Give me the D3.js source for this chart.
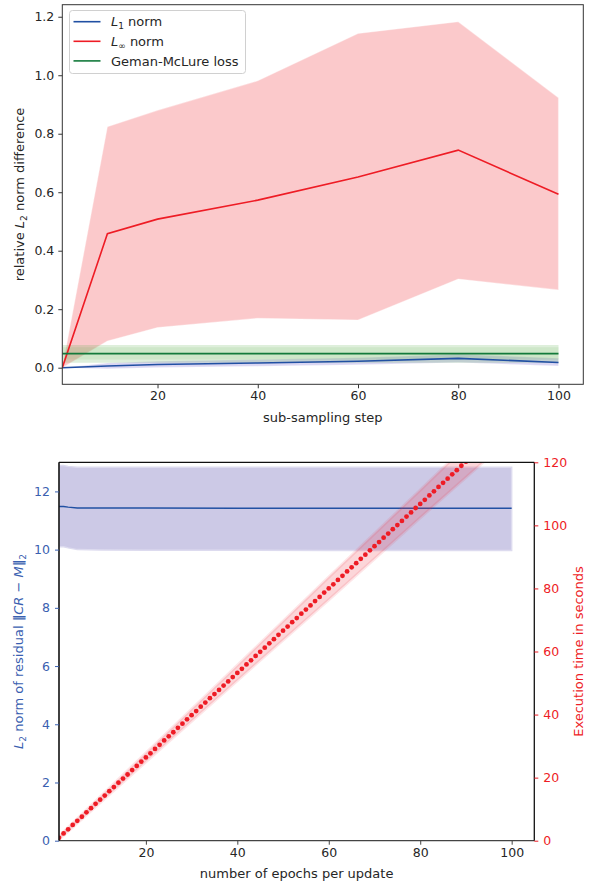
<!DOCTYPE html>
<html>
<head>
<meta charset="utf-8">
<script src="https://cdn.jsdelivr.net/npm/d3@7"></script>
<style>
  body { margin: 0; background: #fff; }
  svg { font-family: "DejaVu Sans", sans-serif; display: block; }
</style>
</head>
<body>
<svg id="chart" width="590" height="884"></svg>
<script>
// ---- top panel data (sub-sampling step) ----
var steps = [1, 10, 20, 40, 60, 80, 100];

var l1Mean = [0, 0.006, 0.011, 0.016, 0.022, 0.032, 0.018];
var l1Lo   = [0, -0.004, 0.001, 0.005, 0.01, 0.018, 0.006];
var l1Hi   = [0, 0.016, 0.022, 0.028, 0.034, 0.046, 0.032];

var linfMean = [0, 0.458, 0.508, 0.573, 0.652, 0.744, 0.593];
var linfLo   = [0, 0.091, 0.137, 0.169, 0.163, 0.303, 0.266];
var linfHi   = [0, 0.824, 0.880, 0.981, 1.143, 1.183, 0.923];

var gmMean = [0.048, 0.048, 0.048, 0.048, 0.048, 0.048, 0.048];
var gmLo   = [0.017, 0.017, 0.017, 0.017, 0.017, 0.017, 0.017];
var gmHi   = [0.078, 0.078, 0.078, 0.078, 0.078, 0.078, 0.078];
var gmInLo = [0.028, 0.028, 0.028, 0.028, 0.028, 0.028, 0.028];
var gmInHi = [0.070, 0.070, 0.070, 0.070, 0.070, 0.070, 0.070];

var topYTicks = [0, 0.2, 0.4, 0.6, 0.8, 1.0, 1.2];
var xTicks = [20, 40, 60, 80, 100];

// ---- bottom panel data (epochs per update) ----
var resEpochs = [1, 2, 3, 5, 10, 20, 40, 60, 80, 100];
var resMean = [11.48, 11.48, 11.46, 11.43, 11.43, 11.43, 11.42, 11.42, 11.42, 11.42];
var resLo   = [10.10, 10.10, 10.06, 10.0, 9.99, 9.98, 9.98, 9.97, 9.97, 9.97];
var resHi   = [12.89, 12.89, 12.86, 12.83, 12.83, 12.83, 12.83, 12.83, 12.83, 12.83];

var timeEpochs = d3.range(1, 101);
var timeMean = [
  0.9, 2.3, 3.6, 5.0, 6.3, 7.6, 9.0, 10.3, 11.7, 13.0,
  14.3, 15.7, 17.0, 18.4, 19.7, 21.0, 22.4, 23.7, 25.1, 26.4,
  27.7, 29.1, 30.4, 31.8, 33.1, 34.4, 35.8, 37.1, 38.5, 39.8,
  41.1, 42.5, 43.8, 45.2, 46.5, 47.8, 49.2, 50.5, 51.9, 53.2,
  54.5, 55.9, 57.2, 58.6, 59.9, 61.2, 62.6, 63.9, 65.3, 66.6,
  67.9, 69.3, 70.6, 72.0, 73.3, 74.6, 76.0, 77.3, 78.7, 80.0,
  81.3, 82.7, 84.0, 85.4, 86.7, 88.0, 89.4, 90.7, 92.1, 93.4,
  94.7, 96.1, 97.4, 98.8, 100.1, 101.4, 102.8, 104.1, 105.5, 106.8,
  108.1, 109.5, 110.8, 112.2, 113.5, 114.8, 116.2, 117.5, 118.9, 120.2,
  121.5, 122.9, 124.2, 125.6, 126.9, 128.2, 129.6, 130.9, 132.3, 133.6
];
var timeBandX  = [1, 20, 40, 60, 80, 100];
var timeBandLo = [0.4, 25.0, 50.8, 76.4, 102.4, 128.0];
var timeBandHi = [1.4, 27.8, 55.6, 83.6, 111.2, 139.2];

var leftTicks = [0, 2, 4, 6, 8, 10, 12];
var rightTicks = [0, 20, 40, 60, 80, 100, 120];

var BLUE = "#2150a3", RED = "#ee1c25", GREEN = "#137a3b", TXT = "#262626";
var TICK_FS = "12.5px", LAB_FS = "13px", SUB_FS = "9px";

var svg = d3.select("#chart");

function zip(xs, a, b) {
  return xs.map(function(x, i) { return {x: x, lo: a[i], hi: b ? b[i] : null}; });
}

// ======================= top panel =======================
var T = {l: 62.3, t: 4.7, r: 583.3, b: 384.3};
var tx = d3.scaleLinear().domain([1, 104.95]).range([T.l, T.r]);
var ty = d3.scaleLinear().domain([-0.0568, 1.2412]).range([T.b, T.t]);

svg.append("clipPath").attr("id", "clipTop").append("rect")
  .attr("x", T.l).attr("y", T.t).attr("width", T.r - T.l).attr("height", T.b - T.t);

var topG = svg.append("g").attr("clip-path", "url(#clipTop)");

var tArea = d3.area().x(function(d) { return tx(d.x); })
  .y0(function(d) { return ty(d.lo); }).y1(function(d) { return ty(d.hi); });
var tLine = d3.line().x(function(d) { return tx(d.x); }).y(function(d) { return ty(d.lo); });

topG.append("path").attr("d", tArea(zip(steps, l1Lo, l1Hi)))
  .attr("fill", "#6a5acd").attr("fill-opacity", 0.25)
  .attr("stroke", "#fff").attr("stroke-opacity", 0.3);
topG.append("path").attr("d", tArea(zip(steps, linfLo, linfHi)))
  .attr("fill", RED).attr("fill-opacity", 0.24)
  .attr("stroke", "#fff").attr("stroke-opacity", 0.35).attr("stroke-width", 1.2);
topG.append("path").attr("d", tArea(zip(steps, gmLo, gmHi)))
  .attr("fill", "#5cb04a").attr("fill-opacity", 0.2);
topG.append("path").attr("d", tArea(zip(steps, gmInLo, gmInHi)))
  .attr("fill", "#5cb04a").attr("fill-opacity", 0.12);

topG.append("path").attr("d", tLine(zip(steps, l1Mean)))
  .attr("fill", "none").attr("stroke", BLUE).attr("stroke-width", 1.6);
topG.append("path").attr("d", tLine(zip(steps, linfMean)))
  .attr("fill", "none").attr("stroke", RED).attr("stroke-width", 1.6);
topG.append("path").attr("d", tLine(zip(steps, gmMean)))
  .attr("fill", "none").attr("stroke", GREEN).attr("stroke-width", 1.6);

// frame
svg.append("rect").attr("x", T.l).attr("y", T.t)
  .attr("width", T.r - T.l).attr("height", T.b - T.t)
  .attr("fill", "none").attr("stroke", "#333").attr("stroke-width", 1);

var axTopX = svg.append("g").attr("transform", "translate(0," + T.b + ")")
  .call(d3.axisBottom(tx).tickValues(xTicks).tickSize(4).tickPadding(3));
var axTopY = svg.append("g").attr("transform", "translate(" + T.l + ",0)")
  .call(d3.axisLeft(ty).tickValues(topYTicks).tickFormat(d3.format(".1f")).tickSize(4).tickPadding(4));
[axTopX, axTopY].forEach(function(a) {
  a.select(".domain").remove();
  a.selectAll("line").attr("stroke", "#333");
  a.selectAll("text").attr("fill", TXT).style("font-size", TICK_FS).style("font-family", "DejaVu Sans");
});

svg.append("text").attr("x", (T.l + T.r) / 2).attr("y", 422)
  .attr("text-anchor", "middle").attr("fill", TXT).style("font-size", LAB_FS)
  .text("sub-sampling step");

var yl = svg.append("text").attr("transform", "translate(24," + ((T.t + T.b) / 2) + ") rotate(-90)")
  .attr("text-anchor", "middle").attr("fill", TXT).style("font-size", LAB_FS);
yl.append("tspan").text("relative ");
yl.append("tspan").attr("font-style", "italic").text("L");
yl.append("tspan").attr("dy", 3).style("font-size", SUB_FS).text("2");
yl.append("tspan").attr("dy", -3).text(" norm difference");

// legend
var lg = svg.append("g").attr("transform", "translate(69.5,10.5)");
lg.append("rect").attr("width", 176).attr("height", 63).attr("rx", 3)
  .attr("fill", "#fff").attr("fill-opacity", 0.8).attr("stroke", "#d0d0d0");
var legendItems = [
  {c: BLUE, parts: [["L", "i"], ["1", "s"], [" norm", ""]]},
  {c: RED, parts: [["L", "i"], ["\u221e", "s"], [" norm", ""]]},
  {c: GREEN, parts: [["Geman-McLure loss", ""]]}
];
legendItems.forEach(function(it, i) {
  var y = 11.2 + i * 19.6;
  lg.append("line").attr("x1", 4).attr("x2", 31).attr("y1", y).attr("y2", y)
    .attr("stroke", it.c).attr("stroke-width", 1.6);
  var t = lg.append("text").attr("x", 41.5).attr("y", y + 4.6).attr("fill", TXT).style("font-size", LAB_FS);
  var sub = false;
  it.parts.forEach(function(p) {
    var s = t.append("tspan").text(p[0]);
    if (p[1] === "i") s.attr("font-style", "italic");
    if (p[1] === "s") { s.attr("dy", 3).style("font-size", SUB_FS); sub = true; }
    else if (sub) { s.attr("dy", -3); sub = false; }
  });
});

// ======================= bottom panel =======================
var B = {l: 59, t: 462.3, r: 534.3, b: 840.7};
var bx = d3.scaleLinear().domain([1, 104.95]).range([B.l, B.r]);
var by = d3.scaleLinear().domain([0, 13]).range([B.b, B.t]);
var by2 = d3.scaleLinear().domain([0, 120]).range([B.b, B.t]);

svg.append("clipPath").attr("id", "clipBot").append("rect")
  .attr("x", B.l).attr("y", B.t).attr("width", B.r - B.l).attr("height", B.b - B.t);
var botG = svg.append("g").attr("clip-path", "url(#clipBot)");

var resArea = d3.area().x(function(d) { return bx(d.x); })
  .y0(function(d) { return by(d.lo); }).y1(function(d) { return by(d.hi); });
botG.append("path").attr("d", resArea(zip(resEpochs, resLo, resHi)))
  .attr("fill", "#ccc9e6").attr("stroke", "#dddbef").attr("stroke-width", 1.5);
botG.append("path").attr("d", d3.line().x(function(d) { return bx(d.x); }).y(function(d) { return by(d.lo); })(zip(resEpochs, resMean)))
  .attr("fill", "none").attr("stroke", BLUE).attr("stroke-width", 1.5);

var timeArea = d3.area().x(function(d) { return bx(d.x); })
  .y0(function(d) { return by2(d.lo); }).y1(function(d) { return by2(d.hi); });
botG.append("path").attr("d", timeArea(zip(timeBandX, timeBandLo, timeBandHi)))
  .attr("fill", "#ef3340").attr("fill-opacity", 0.2)
  .attr("stroke", "#ef3340").attr("stroke-opacity", 0.12).attr("stroke-width", 3);

botG.selectAll("circle.dot").data(zip(timeEpochs, timeMean)).enter().append("circle")
  .attr("class", "dot")
  .attr("cx", function(d) { return bx(d.x); })
  .attr("cy", function(d) { return by2(d.lo); })
  .attr("r", 2.4).attr("fill", RED);

// spines
svg.append("line").attr("x1", B.l).attr("x2", B.r).attr("y1", B.t).attr("y2", B.t)
  .attr("stroke", "#111").attr("stroke-width", 1.3);
svg.append("line").attr("x1", B.l).attr("x2", B.r).attr("y1", B.b).attr("y2", B.b)
  .attr("stroke", "#444").attr("stroke-width", 1.3);
svg.append("line").attr("x1", B.l).attr("x2", B.l).attr("y1", B.t).attr("y2", B.b)
  .attr("stroke", "#111").attr("stroke-width", 1.6);
svg.append("line").attr("x1", B.r).attr("x2", B.r).attr("y1", B.t).attr("y2", B.b)
  .attr("stroke", "#111").attr("stroke-width", 1.3);

var axBotX = svg.append("g").attr("transform", "translate(0," + B.b + ")")
  .call(d3.axisBottom(bx).tickValues(xTicks).tickSize(4).tickPadding(3));
axBotX.selectAll("line").attr("stroke", "#444");
axBotX.selectAll("text").attr("fill", TXT);

var axBotL = svg.append("g").attr("transform", "translate(" + B.l + ",0)")
  .call(d3.axisLeft(by).tickValues(leftTicks).tickSize(4).tickPadding(5));
axBotL.selectAll("line").attr("stroke", "#3a60b0");
axBotL.selectAll("text").attr("fill", "#3a60b0");

var axBotR = svg.append("g").attr("transform", "translate(" + B.r + ",0)")
  .call(d3.axisRight(by2).tickValues(rightTicks).tickSize(4).tickPadding(5));
axBotR.selectAll("line").attr("stroke", RED);
axBotR.selectAll("text").attr("fill", RED);

[axBotX, axBotL, axBotR].forEach(function(a) {
  a.select(".domain").remove();
  a.selectAll("text").style("font-size", TICK_FS).style("font-family", "DejaVu Sans");
});

svg.append("text").attr("x", (B.l + B.r) / 2).attr("y", 878)
  .attr("text-anchor", "middle").attr("fill", TXT).style("font-size", LAB_FS)
  .text("number of epochs per update");

var ly = svg.append("text").attr("transform", "translate(23," + ((B.t + B.b) / 2) + ") rotate(-90)")
  .attr("text-anchor", "middle").attr("fill", "#3a60b0").style("font-size", LAB_FS);
ly.append("tspan").attr("font-style", "italic").text("L");
ly.append("tspan").attr("dy", 3).style("font-size", SUB_FS).text("2");
ly.append("tspan").attr("dy", -3).text(" norm of residual ");
ly.append("tspan").attr("font-weight", "bold").text("\u2016");
ly.append("tspan").attr("font-style", "italic").text("CR");
ly.append("tspan").text(" \u2212 ");
ly.append("tspan").attr("font-style", "italic").text("M");
ly.append("tspan").attr("font-weight", "bold").text("\u2016");
ly.append("tspan").attr("dy", 3).style("font-size", SUB_FS).text("2");

svg.append("text").attr("transform", "translate(583," + ((B.t + B.b) / 2) + ") rotate(-90)")
  .attr("text-anchor", "middle").attr("fill", RED).style("font-size", LAB_FS)
  .text("Execution time in seconds");
</script>
</body>
</html>
